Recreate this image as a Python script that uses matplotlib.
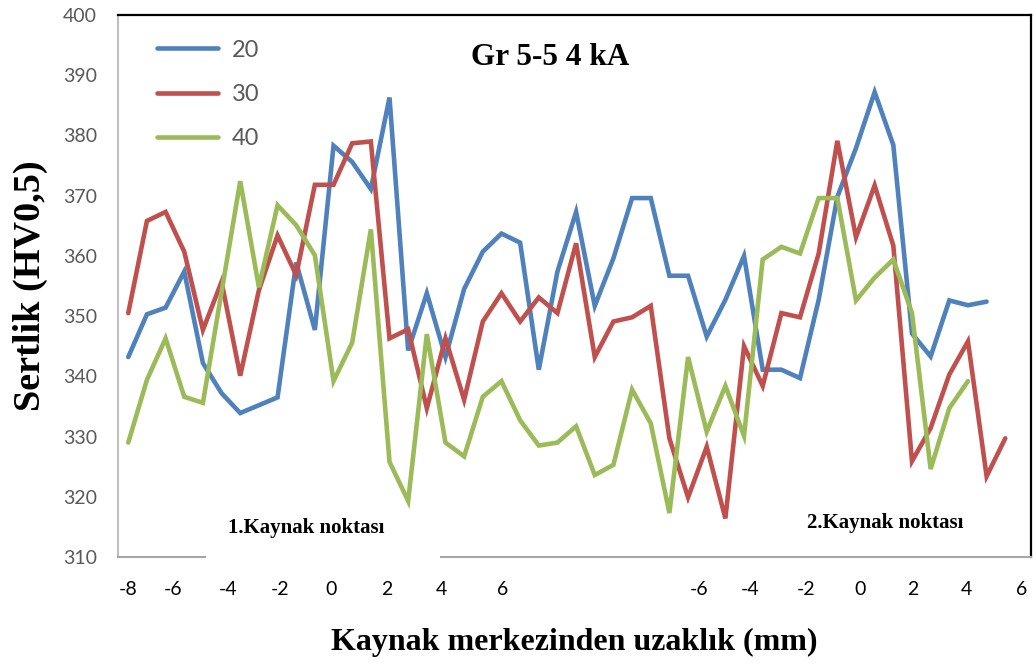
import matplotlib
matplotlib.use("Agg")
import matplotlib.pyplot as plt
from matplotlib.patches import Rectangle

# hardness profile across two weld spots, three series
hv_20 = [343.2, 350.3, 351.4, 357.4, 342.2, 337.2, 333.9, 335.2, 336.5, 358.9,
         347.7, 378.3, 375.6, 371.1, 386.3, 344.3, 353.8, 343.2, 354.5, 360.7,
         363.7, 362.2, 341.1, 357.4, 367.3, 351.7, 359.6, 369.6, 369.6, 356.7,
         356.7, 346.6, 352.7, 360.0, 341.1, 341.1, 339.7, 352.7, 369.8, 377.9,
         387.2, 378.4, 347.1, 343.3, 352.6, 351.8, 352.4]
hv_30 = [350.5, 365.8, 367.3, 360.7, 347.7, 355.7, 340.1, 354.3, 363.4, 356.8,
         371.8, 371.8, 378.7, 379.0, 346.3, 347.8, 334.7, 346.3, 336.1, 349.1,
         353.8, 349.1, 353.1, 350.5, 362.1, 343.2, 349.1, 349.8, 351.7, 329.7,
         319.9, 328.3, 316.4, 345.0, 338.4, 350.5, 349.8, 360.4, 379.1, 363.1,
         371.7, 361.7, 325.9, 331.4, 340.3, 345.8, 323.4, 329.7]
hv_40 = [329.0, 339.4, 346.3, 336.6, 335.6, 354.0, 372.4, 354.8, 368.4, 365.1,
         360.1, 339.2, 345.6, 364.4, 325.8, 319.3, 347.0, 329.0, 326.7, 336.6,
         339.2, 332.7, 328.5, 329.0, 331.7, 323.6, 325.3, 337.8, 332.2, 317.3,
         343.2, 330.8, 338.4, 330.1, 359.4, 361.5, 360.4, 369.6, 369.6, 352.6,
         356.4, 359.4, 350.5, 324.6, 334.7, 339.2]

series = [("20", hv_20, "#4F81BD"), ("30", hv_30, "#C0504D"), ("40", hv_40, "#9BBB59")]

# distance labels written under each weld spot
dist_labels = ["-8", "-6", "-4", "-2", "0", "2", "4", "6",
               "-6", "-4", "-2", "0", "2", "4", "6"]
dist_pos = [0, 2.4, 5.34, 8.14, 10.86, 13.87, 16.76, 20.08,
            30.6, 33.32, 36.32, 39.21, 42.05, 44.94, 47.88]

plt.rcParams["font.family"] = ["Lato", "DejaVu Sans"]
serif = ["Liberation Serif", "DejaVu Serif"]

fig = plt.figure(figsize=(10.36, 6.70), dpi=100)
ax = fig.add_axes([0.1139, 0.1687, 0.8813, 0.8089])

for name, vals, col in series:
    ax.plot(range(len(vals)), vals, color=col, lw=3.3, label=name,
            solid_joinstyle="miter", solid_capstyle="round")

ax.set_xlim(-0.55, 48.38)
ax.set_ylim(310, 400)
ax.set_yticks(range(310, 401, 10))
ax.set_xticks(dist_pos)
ax.set_xticklabels(dist_labels)
ax.tick_params(axis="both", length=0, labelsize=14, colors="#595959")
ax.tick_params(axis="y", pad=15)
ax.tick_params(axis="x", pad=17, colors="black")

ax.spines["top"].set_color("black")
ax.spines["top"].set_linewidth(1.6)
ax.spines["right"].set_color("black")
ax.spines["right"].set_linewidth(1.6)
ax.spines["left"].set_color("#bfbfbf")
ax.spines["left"].set_linewidth(1.5)
ax.spines["bottom"].set_color("#a6a6a6")
ax.spines["bottom"].set_linewidth(1.5)

leg = ax.legend(loc="upper left", bbox_to_anchor=(0.025, 0.985), frameon=False,
                fontsize=17, handlelength=2.55, handletextpad=0.6,
                labelspacing=0.98, borderpad=0.2)
for t in leg.get_texts():
    t.set_color("#595959")

ax.text(0.473, 0.922, "Gr 5-5 4 kA", transform=ax.transAxes, ha="center",
        va="center", fontsize=22.5, fontweight="bold", family=serif)

# white text box sitting over the bottom axis line
ax.add_patch(Rectangle((0.0964, -0.006), 0.2563, 0.085, transform=ax.transAxes,
                       fc="white", ec="none", zorder=3, clip_on=False))
ax.text(0.206, 0.053, "1.Kaynak noktası", transform=ax.transAxes, ha="center",
        va="center", fontsize=15, fontweight="bold", family=serif, zorder=4)
ax.text(0.840, 0.063, "2.Kaynak noktası", transform=ax.transAxes, ha="center",
        va="center", fontsize=15, fontweight="bold", family=serif)

ax.set_ylabel("Sertlik (HV0,5)", fontsize=27.5, fontweight="bold", family=serif,
              labelpad=11)
ax.set_xlabel("Kaynak merkezinden uzaklık (mm)", fontsize=23, fontweight="bold",
              family=serif, labelpad=22)

fig.savefig("out.png", dpi=100)
